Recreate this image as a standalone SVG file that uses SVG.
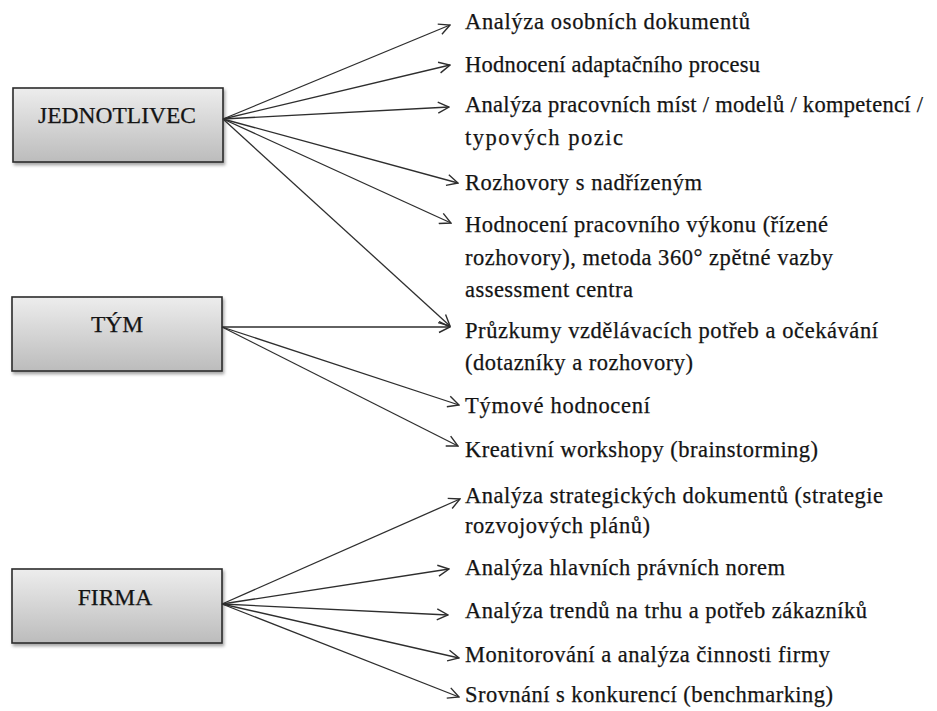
<svg xmlns="http://www.w3.org/2000/svg" width="937" height="711" viewBox="0 0 937 711">
  <style>
    .box { fill: url(#boxFill); stroke: #2b2b2b; stroke-width: 1.6; filter: url(#shadow); }
    .head { font-family: "Liberation Serif", "Times New Roman", serif; font-size: 23.5px; fill: #141414; stroke: #141414; stroke-width: 0.25; text-anchor: middle; }
    .item { font-family: "Liberation Serif", "Times New Roman", serif; font-size: 22.5px; fill: #141414; stroke: #141414; stroke-width: 0.25; }
    .link { fill: none; stroke: #2e2e2e; stroke-width: 1.3; marker-end: url(#arrow); }
  </style>
  <defs>
    <linearGradient id="boxFill" x1="0" y1="0" x2="0" y2="1">
      <stop offset="0" stop-color="#ededed"/>
      <stop offset="1" stop-color="#bcbcbc"/>
    </linearGradient>
    <filter id="shadow" x="-10%" y="-20%" width="125%" height="150%">
      <feDropShadow dx="1.5" dy="2.5" stdDeviation="1.8" flood-color="#000" flood-opacity="0.35"/>
    </filter>
    <marker id="arrow" viewBox="0 0 13 13" refX="12" refY="6.5" markerWidth="13" markerHeight="13" markerUnits="userSpaceOnUse" orient="auto">
      <path d="M1,1 L12,6.5 L1,12" fill="none" stroke="#2e2e2e" stroke-width="1.4"/>
    </marker>
  </defs>

  <!-- source nodes -->
  <g id="jednotlivec">
    <rect class="box" x="13" y="88" width="210" height="74"/>
    <text class="head" x="117" y="123">JEDNOTLIVEC</text>
  </g>
  <g id="tym">
    <rect class="box" x="12" y="297" width="210" height="74"/>
    <text class="head" x="117" y="332">TÝM</text>
  </g>
  <g id="firma">
    <rect class="box" x="12" y="569" width="210" height="74"/>
    <text class="head" x="115" y="605">FIRMA</text>
  </g>

  <!-- connectors -->
  <g id="connectors">
    <line class="link" x1="223" y1="119" x2="450" y2="25"/>
    <line class="link" x1="223" y1="119" x2="450" y2="65"/>
    <line class="link" x1="223" y1="119" x2="449" y2="107"/>
    <line class="link" x1="223" y1="119" x2="458" y2="183"/>
    <line class="link" x1="223" y1="119" x2="451" y2="223"/>
    <line class="link" x1="223" y1="119" x2="450" y2="326"/>

    <line class="link" x1="222" y1="327" x2="450" y2="327"/>
    <line class="link" x1="222" y1="327" x2="459" y2="405"/>
    <line class="link" x1="222" y1="327" x2="458" y2="446"/>

    <line class="link" x1="222" y1="604" x2="460" y2="499"/>
    <line class="link" x1="222" y1="604" x2="449" y2="569"/>
    <line class="link" x1="222" y1="604" x2="448" y2="615"/>
    <line class="link" x1="222" y1="604" x2="459" y2="658"/>
    <line class="link" x1="222" y1="604" x2="459" y2="697"/>
  </g>

  <!-- target nodes -->
  <g id="t1"><text class="item" x="465" y="29" textLength="285" lengthAdjust="spacing">Analýza osobních dokumentů</text></g>
  <g id="t2"><text class="item" x="465" y="72" textLength="295" lengthAdjust="spacing">Hodnocení adaptačního procesu</text></g>
  <g id="t3">
    <text class="item" x="465" y="112" textLength="458" lengthAdjust="spacing">Analýza pracovních míst / modelů / kompetencí /</text>
    <text class="item" x="465" y="145" textLength="158" lengthAdjust="spacing">typových pozic</text>
  </g>
  <g id="t4"><text class="item" x="465" y="190" textLength="237" lengthAdjust="spacing">Rozhovory s nadřízeným</text></g>
  <g id="t5">
    <text class="item" x="465" y="232" textLength="363" lengthAdjust="spacing">Hodnocení pracovního výkonu (řízené</text>
    <text class="item" x="465" y="265" textLength="368" lengthAdjust="spacing">rozhovory), metoda 360° zpětné vazby</text>
    <text class="item" x="465" y="297" textLength="168" lengthAdjust="spacing">assessment centra</text>
  </g>
  <g id="t6">
    <text class="item" x="465" y="338" textLength="413" lengthAdjust="spacing">Průzkumy vzdělávacích potřeb a očekávání</text>
    <text class="item" x="465" y="370" textLength="228" lengthAdjust="spacing">(dotazníky a rozhovory)</text>
  </g>
  <g id="t7"><text class="item" x="465" y="413" textLength="185" lengthAdjust="spacing">Týmové hodnocení</text></g>
  <g id="t8"><text class="item" x="465" y="457" textLength="353" lengthAdjust="spacing">Kreativní workshopy (brainstorming)</text></g>
  <g id="t9">
    <text class="item" x="465" y="503" textLength="418" lengthAdjust="spacing">Analýza strategických dokumentů (strategie</text>
    <text class="item" x="465" y="533" textLength="185" lengthAdjust="spacing">rozvojových plánů)</text>
  </g>
  <g id="t10"><text class="item" x="465" y="575" textLength="320" lengthAdjust="spacing">Analýza hlavních právních norem</text></g>
  <g id="t11"><text class="item" x="465" y="618" textLength="402" lengthAdjust="spacing">Analýza trendů na trhu a potřeb zákazníků</text></g>
  <g id="t12"><text class="item" x="465" y="662" textLength="365" lengthAdjust="spacing">Monitorování a analýza činnosti firmy</text></g>
  <g id="t13"><text class="item" x="465" y="702" textLength="368" lengthAdjust="spacing">Srovnání s konkurencí (benchmarking)</text></g>
</svg>
